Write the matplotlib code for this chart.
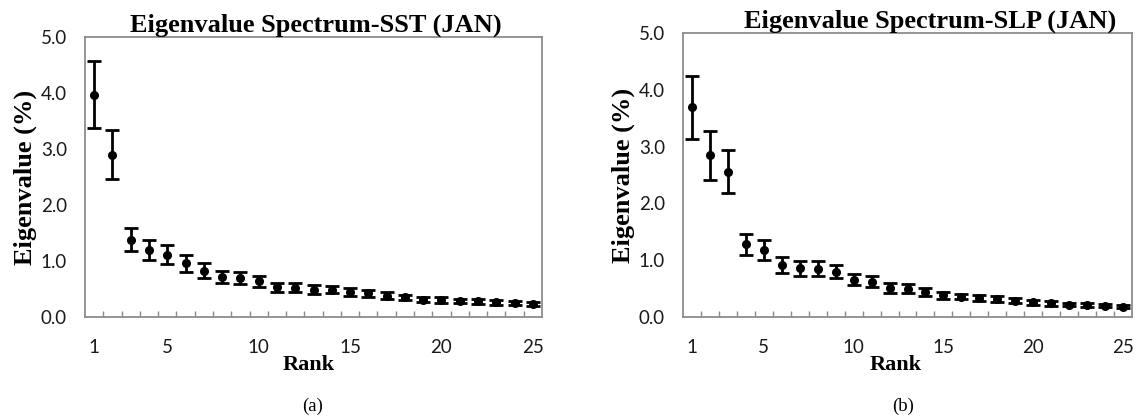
import numpy as np
import matplotlib
matplotlib.use("Agg")
import matplotlib.pyplot as plt
from matplotlib.ticker import FixedLocator, FormatStrFormatter

# rank 1..25
rank = np.arange(1, 26)

# SST (JAN) eigenvalues (%) and error half widths
sst_val = [3.97, 2.90, 1.38, 1.20, 1.11, 0.96, 0.83, 0.71, 0.70, 0.64,
           0.53, 0.52, 0.49, 0.49, 0.44, 0.42, 0.38, 0.35, 0.31, 0.30,
           0.29, 0.28, 0.26, 0.25, 0.23]
sst_err = [0.60, 0.44, 0.21, 0.18, 0.17, 0.15, 0.13, 0.11, 0.11, 0.10,
           0.08, 0.08, 0.08, 0.07, 0.07, 0.06, 0.06, 0.05, 0.05, 0.05,
           0.04, 0.04, 0.04, 0.04, 0.04]

# SLP (JAN)
slp_val = [3.69, 2.85, 2.56, 1.28, 1.18, 0.92, 0.86, 0.85, 0.80, 0.66,
           0.62, 0.51, 0.50, 0.44, 0.38, 0.36, 0.34, 0.32, 0.29, 0.26,
           0.24, 0.22, 0.21, 0.20, 0.18]
slp_err = [0.56, 0.43, 0.38, 0.19, 0.18, 0.14, 0.13, 0.13, 0.12, 0.10,
           0.10, 0.08, 0.08, 0.07, 0.06, 0.05, 0.05, 0.05, 0.04, 0.04,
           0.04, 0.03, 0.03, 0.03, 0.03]

xlabels = [1, 5, 10, 15, 20, 25]
yticks = [0, 1, 2, 3, 4, 5]

serif = "Liberation Serif"
sans = "Lato"
gray = "#8c8c8c"

fig = plt.figure(figsize=(11.37, 4.17), dpi=100)
ax1 = fig.add_axes([85 / 1137, 100 / 417, 457 / 1137, 280 / 417])
ax2 = fig.add_axes([683 / 1137, 100 / 417, 449 / 1137, 284 / 417])


def draw(ax, vals, errs, title, title_x, label_x):
    ax.errorbar(rank, vals, yerr=errs, fmt="o", color="black", ms=5.5,
                elinewidth=2.0, capsize=4.8, capthick=2.0)
    ax.set_xlim(0.5, 25.5)
    ax.set_ylim(0, 5)
    for s in ax.spines.values():
        s.set_color(gray)
        s.set_linewidth(1.3)
    ax.xaxis.set_major_locator(FixedLocator(xlabels))
    ax.xaxis.set_minor_locator(FixedLocator(np.arange(1.5, 25.5, 1)))
    ax.tick_params(axis="x", which="major", length=0, pad=16)
    ax.tick_params(axis="x", which="minor", direction="in", length=4,
                   width=1, color=gray)
    ax.set_yticks(yticks)
    ax.yaxis.set_major_formatter(FormatStrFormatter("%.1f"))
    ax.tick_params(axis="y", length=0, pad=13)
    for lab in ax.get_xticklabels() + ax.get_yticklabels():
        lab.set_fontfamily(sans)
        lab.set_fontsize(13.5)
        lab.set_color("#1a1a1a")
    ax.set_title(title, fontfamily=serif, fontweight="bold", fontsize=19,
                 x=title_x, pad=1)
    ax.set_xlabel("Rank", fontfamily=serif, fontweight="bold", fontsize=16,
                  x=label_x, labelpad=-1)
    ax.set_ylabel("Eigenvalue (%)", fontfamily=serif, fontweight="bold",
                  fontsize=19, labelpad=3)


draw(ax1, sst_val, sst_err, "Eigenvalue Spectrum-SST (JAN)", 0.504, 0.489)
draw(ax2, slp_val, slp_err, "Eigenvalue Spectrum-SLP (JAN)", 0.55, 0.474)

fig.text(313 / 1137, 1 - 406 / 417, "(a)", fontfamily=serif, fontsize=13.5,
         ha="center", va="center")
fig.text(903 / 1137, 1 - 406 / 417, "(b)", fontfamily=serif, fontsize=13.5,
         ha="center", va="center")

fig.savefig("out.png", dpi=100)
